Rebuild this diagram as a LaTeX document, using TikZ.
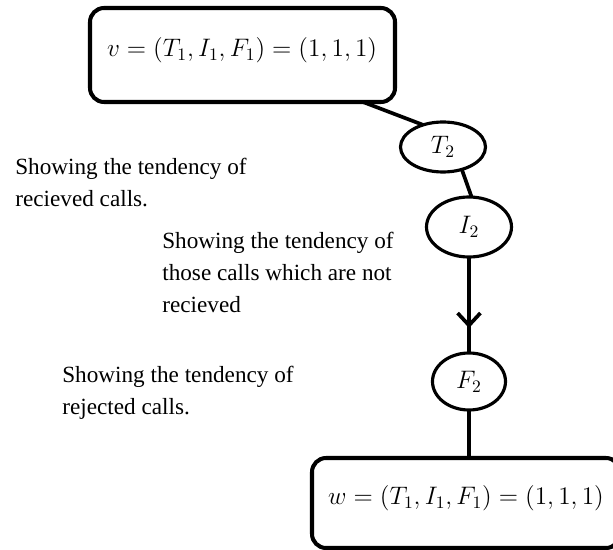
\documentclass[tikz,border=0pt]{standalone}
\usepackage{fontspec}
\setmainfont{Liberation Serif}
\usetikzlibrary{positioning, shapes.geometric, arrows.meta, decorations.markings}

\begin{document}
\begin{tikzpicture}[node distance=0.5cm and 1.0cm,
  every node/.style={text=black, font=\fontsize{13.2}{18.2}\selectfont},
  conn/.style={line width=2.1pt, draw=black},
  midarr/.style={postaction={decorate}, decoration={markings,
                 mark=at position 0.74 with {\arrow{Straight Barb[length=7pt, width=13pt]}}}},
  eqbox/.style={draw, line width=2.3pt, rounded corners=8pt, outer sep=0pt,
                text depth=0.32cm, font=\fontsize{13.8}{18}\selectfont},
  valnode/.style={draw, ellipse, line width=1.8pt, inner sep=0pt, outer sep=0pt,
                  font=\fontsize{14.2}{18}\selectfont},
  note/.style={anchor=west, align=left, inner sep=0pt}]

  \useasboundingbox (0,0) rectangle (12.26,-11);

  %% top and bottom values
  \node[eqbox, align=left, text width=5.42cm, inner xsep=0.34cm, minimum height=1.88cm]
      (vbox) at (4.85,-1.1) {$v = (T_1, I_1, F_1) = (1, 1, 1)$};

  \node[valnode, minimum width=1.7cm, minimum height=1.0cm, below=0.4cm of vbox, xshift=4.01cm]
      (T2) {$T_2$};
  \node[valnode, minimum width=1.7cm, minimum height=1.2cm, below=0.5cm of T2, xshift=0.52cm]
      (I2) {$I_2$};
  \node[valnode, minimum width=1.46cm, minimum height=1.14cm, below=1.92cm of I2]
      (F2) {$F_2$};

  \node[eqbox, align=center, minimum width=6.16cm, minimum height=1.8cm,
        below=0.96cm of F2, xshift=-0.06cm]
      (wbox) {$w = (T_1, I_1, F_1) = (1, 1, 1)$};

  %% notes
  \node[note] (recvnote) at (0.3,-3.65) {Showing the tendency of\\recieved calls.};
  \node[note] (missnote) at (3.24,-5.44) {Showing the tendency of\\those calls which are not\\recieved};
  \node[note] (rejnote)  at (1.24,-7.86) {Showing the tendency of\\rejected calls.};

  %% connectors
  \draw[conn] ([xshift=2.41cm]vbox.south) -- (T2.132);
  \draw[conn] (T2.310) -- (I2.85);
  \draw[conn, midarr] (I2) -- (F2);
  \draw[conn] (F2) -- (F2 |- wbox.north);

\end{tikzpicture}
\end{document}
